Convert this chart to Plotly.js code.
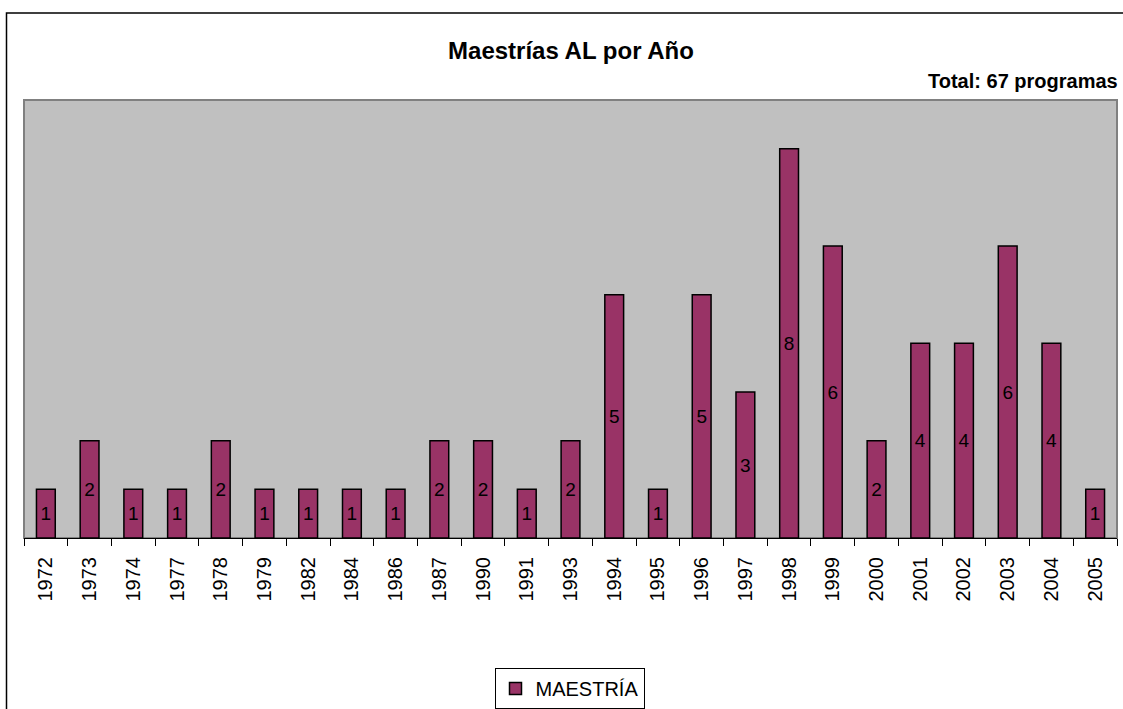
<!DOCTYPE html>
<html>
<head>
<meta charset="utf-8">
<script src="https://cdn.plot.ly/plotly-3.0.1.min.js"></script>
<style>
html,body{margin:0;padding:0;background:#fff;}
#chart{width:1123px;height:709px;}
</style>
</head>
<body>
<div id="chart"></div>
<script>
const years = ["1972","1973","1974","1977","1978","1979","1982","1984","1986","1987","1990","1991","1993","1994","1995","1996","1997","1998","1999","2000","2001","2002","2003","2004","2005"];
const maestria = [1,2,1,1,2,1,1,1,1,2,2,1,2,5,1,5,3,8,6,2,4,4,6,4,1];
const seriesName = "MAESTRÍA";
const chartTitle = "Maestrías AL por Año";
const totalLabel = "Total: 67 programas";

const W = 1123, H = 709;
const m = {l: 24, r: 6, t: 100, b: 171};
const pw = W - m.l - m.r, ph = H - m.t - m.b;
const px = x => (x - m.l) / pw;
const py = y => (H - m.b - y) / ph;

const font = '"Liberation Sans", Arial, sans-serif';

const trace = {
  type: 'bar',
  x: years,
  y: maestria,
  name: seriesName,
  text: maestria.map(String),
  textposition: 'inside',
  insidetextanchor: 'middle',
  textangle: 0,
  textfont: {family: font, size: 19, color: '#000'},
  constraintext: 'none',
  marker: {color: '#993366', line: {color: '#000', width: 1.5}},
  showlegend: true,
  hoverinfo: 'x+y'
};

const layout = {
  width: W, height: H,
  margin: m,
  paper_bgcolor: '#fff',
  plot_bgcolor: '#C0C0C0',
  font: {family: font, color: '#000'},
  bargap: 0.57,
  title: {
    text: '<b>' + chartTitle + '</b>',
    font: {family: font, size: 24, color: '#000'},
    x: 571 / W, xref: 'container', xanchor: 'center',
    y: 1 - 51 / H, yref: 'container', yanchor: 'middle'
  },
  xaxis: {
    type: 'category',
    automargin: false,
    tickangle: -90,
    tickfont: {family: font, size: 20, color: '#000'},
    ticks: 'outside', ticklen: 7, tickwidth: 1, tickcolor: '#000',
    tickson: 'boundaries',
    ticklabelstandoff: 10,
    showline: true, linecolor: '#000', linewidth: 1,
    showgrid: false, zeroline: false,
    fixedrange: true
  },
  yaxis: {
    range: [0, 9],
    visible: false,
    automargin: false,
    showgrid: false, zeroline: false,
    fixedrange: true
  },
  showlegend: true,
  legend: {
    orientation: 'h',
    xref: 'container', yref: 'container',
    x: 569.5 / W, xanchor: 'center',
    y: 1 - 668 / H, yanchor: 'top',
    bordercolor: '#000', borderwidth: 1,
    bgcolor: '#fff',
    font: {family: font, size: 20, color: '#000'}
  },
  annotations: [{
    text: '<b>' + totalLabel + '</b>',
    xref: 'paper', yref: 'paper',
    x: px(1120), xanchor: 'right',
    y: py(81), yanchor: 'middle',
    showarrow: false,
    font: {family: font, size: 20, color: '#000'}
  }],
  shapes: [
    {type: 'rect', xref: 'paper', yref: 'paper', x0: 0, x1: 1, y0: 0, y1: 1,
     line: {color: '#808080', width: 2}, layer: 'below'},
    {type: 'rect', xref: 'paper', yref: 'paper',
     x0: px(6.5), x1: px(1140), y0: py(730), y1: py(13),
     line: {color: '#000', width: 1.5}, fillcolor: 'rgba(0,0,0,0)', layer: 'above'}
  ]
};

Plotly.newPlot('chart', [trace], layout, {displayModeBar: false, staticPlot: true});
</script>
</body>
</html>
